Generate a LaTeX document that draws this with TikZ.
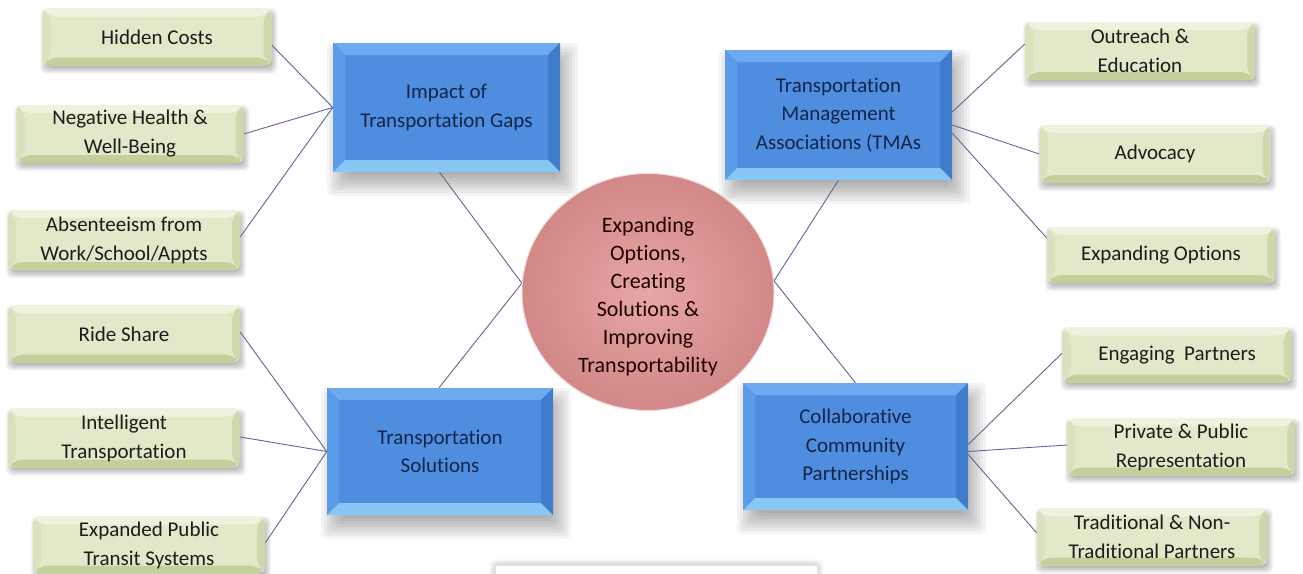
\documentclass[tikz,border=0pt]{standalone}
\usepackage{fontspec}
\setmainfont{Carlito}[Ligatures={NoCommon}]
\usetikzlibrary{shapes.geometric,backgrounds}
\definecolor{bmain}{HTML}{4F8EDF}
\definecolor{btop}{HTML}{6DAAF0}
\definecolor{bleft}{HTML}{5C9BE8}
\definecolor{bright}{HTML}{3F7DCC}
\definecolor{bbot}{HTML}{88C6F6}
\definecolor{btext}{HTML}{14244A}
\definecolor{gmain}{HTML}{E1E9C9}
\definecolor{gtop}{HTML}{EEF3DE}
\definecolor{gleft}{HTML}{D9E2BD}
\definecolor{gright}{HTML}{CDD8AC}
\definecolor{gbot}{HTML}{C4D09C}
\definecolor{gtext}{HTML}{1C1C1C}
\definecolor{einner}{HTML}{E6A7A5}
\definecolor{eouter}{HTML}{D28886}
\definecolor{conn}{HTML}{5A6A96}
\newcommand\boxfont{\fontsize{21}{29}\selectfont}
\newcommand\bluefont{\fontsize{21}{28.5}\selectfont}
\newcommand\elfont{\fontsize{22}{28}\selectfont}
\newcommand\softshadow[5]{%
  \foreach \s in {0,1,...,7}{
    \fill[black,fill opacity=#5,rounded corners=6pt]
      ([xshift={#2-#4+\s*#4/4},yshift={-#3+#4-\s*#4/4}]#1.north west) rectangle
      ([xshift={#2+#4-\s*#4/4},yshift={-#3-#4+\s*#4/4}]#1.south east);
  }}
\tikzset{
  bevel/.style n args={5}{path picture={
    \def\pb{path picture bounding box}
    \fill[#2] (\pb.north west) -- (\pb.north east) -- ([xshift=-#1pt,yshift=-#1pt]\pb.north east) -- ([xshift=#1pt,yshift=-#1pt]\pb.north west) -- cycle;
    \fill[#3] (\pb.north west) -- (\pb.south west) -- ([xshift=#1pt,yshift=#1pt]\pb.south west) -- ([xshift=#1pt,yshift=-#1pt]\pb.north west) -- cycle;
    \fill[#4] (\pb.north east) -- (\pb.south east) -- ([xshift=-#1pt,yshift=#1pt]\pb.south east) -- ([xshift=-#1pt,yshift=-#1pt]\pb.north east) -- cycle;
    \fill[#5] (\pb.south west) -- (\pb.south east) -- ([xshift=-#1pt,yshift=#1pt]\pb.south east) -- ([xshift=#1pt,yshift=#1pt]\pb.south west) -- cycle;
  }},
  bluebox/.style={rectangle, minimum width=227pt, minimum height=128pt, inner sep=0pt,
    fill=bmain, bevel={12}{btop}{bleft}{bright}{bbot}, text=btext, align=center, font=\bluefont},
  greenbox/.style={rectangle, rounded corners=7pt, minimum width=230pt, minimum height=57pt, inner sep=0pt,
    fill=gmain, bevel={8}{gtop}{gleft}{gright}{gbot}, text=gtext, align=center, font=\boxfont},
  centre/.style={ellipse, minimum width=252pt, minimum height=216pt, inner sep=0pt,
    inner color=einner, outer color=eouter, draw=white!65!eouter, line width=1pt,
    text=black!88!red, align=center, font=\elfont},
  link/.style={draw=conn, line width=0.9pt},
}
\begin{document}
\begin{tikzpicture}[x=1pt,y=-1pt]
\useasboundingbox (0,0) rectangle (1303,573);
% green boxes, left
\node[greenbox, minimum width=229pt] (hc) at (157,37) {Hidden Costs};
\node[greenbox, minimum width=227pt, minimum height=58pt] (nh) at (130,134) {Negative Health \&\\Well-Being};
\node[greenbox, minimum width=232pt, minimum height=60pt] (ab) at (124,240) {Absenteeism from\\Work/School/Appts};
\node[greenbox, minimum width=232pt] (rs) at (124,334) {Ride Share};
\node[greenbox, minimum width=232pt, minimum height=59pt] (it) at (124,438) {Intelligent\\Transportation};
\node[greenbox, minimum width=232pt] (ep) at (149,545) {Expanded Public\\Transit Systems};
% green boxes, right
\node[greenbox, minimum height=58pt] (oe) at (1140,51) {Outreach \&\\Education};
\node[greenbox, minimum width=231pt, minimum height=58pt] (ad) at (1155,154) {Advocacy};
\node[greenbox, minimum width=228pt, minimum height=56pt] (eo) at (1161,255) {Expanding Options};
\node[greenbox, minimum width=229pt, minimum height=55pt] (en) at (1177,355) {Engaging~~Partners};
\node[greenbox, minimum width=228pt] (pp) at (1181,447) {Private \& Public\\Representation};
\node[greenbox] (tr) at (1152,537) {Traditional \& Non-\\Traditional Partners};
% blue boxes
\node[bluebox, minimum height=129pt] (im) at (446.5,107.5) {Impact of\\Transportation Gaps};
\node[bluebox, minimum height=130pt] (tm) at (838.5,115) {Transportation\\Management\\Associations (TMAs};
\node[bluebox, minimum width=226pt, minimum height=127pt] (ts) at (440,451.5) {Transportation\\Solutions};
\node[bluebox, minimum width=225pt, minimum height=127pt] (cc) at (855.5,446.5) {Collaborative\\Community\\Partnerships};
% centre
\node[centre] (el) at (648,292) {\\[-4pt]Expanding\\Options,\\Creating\\Solutions \&\\Improving\\Transportability};
% partial white box at bottom
\node[rectangle, minimum width=323pt, minimum height=24pt, fill=white, draw=black!12, line width=1.2pt] (bx) at (656.5,577) {};
\begin{pgfonlayer}{background}
  \fill[white] (0,0) rectangle (1303,573);
  \foreach \n in {im,tm,ts,cc}{\softshadow{\n}{6}{12}{12}{0.045}}
  \foreach \n in {hc,nh,ab,rs,it,ep,oe,ad,eo,en,pp,tr}{\softshadow{\n}{2}{4}{4}{0.04}}
  \softshadow{bx}{0}{0}{5}{0.03}
  % connectors
  \draw[link] ([yshift=-8pt]hc.east) -- (im.west);
  \draw[link] (nh.east) -- (im.west);
  \draw[link] ([yshift=3pt]ab.east) -- (im.west);
  \draw[link] ([yshift=2pt]rs.east) -- (ts.west);
  \draw[link] ([yshift=1pt]it.east) -- (ts.west);
  \draw[link] ([yshift=2pt]ep.east) -- (ts.west);
  \draw[link] ([yshift=3pt]tm.east) -- ([yshift=7pt]oe.west);
  \draw[link] ([yshift=-10pt]tm.east) -- (ad.west);
  \draw[link] ([yshift=-18pt]tm.east) -- ([yshift=17pt]eo.west);
  \draw[link] ([yshift=2pt]cc.east) -- ([yshift=2pt]en.west);
  \draw[link] ([yshift=-5pt]cc.east) -- ([yshift=2pt]pp.west);
  \draw[link] ([yshift=-8pt]cc.east) -- ([yshift=4pt]tr.west);
  \draw[link] ([xshift=-7pt]im.south) -- (el.176);
  \draw[link] (el.176) -- ([xshift=-1pt]ts.north);
  \draw[link] (tm.south) -- (el.5);
  \draw[link] (el.5) -- (cc.north);
\end{pgfonlayer}
\end{tikzpicture}
\end{document}
